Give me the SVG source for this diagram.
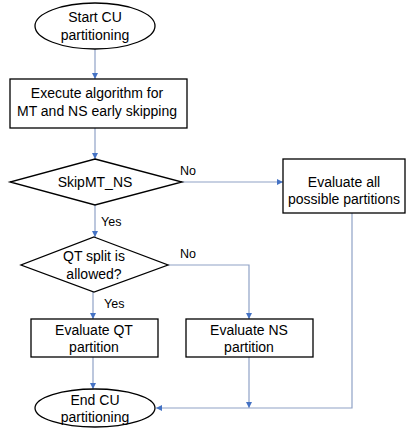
<svg xmlns="http://www.w3.org/2000/svg" width="407" height="428" viewBox="0 0 407 428">
<defs>
<marker id="ah" viewBox="0 0 6 6" refX="6" refY="3" markerWidth="6" markerHeight="6" markerUnits="userSpaceOnUse" orient="auto">
<path d="M0,0 L6,3 L0,6 Z" fill="#4472C4"/>
</marker>
<style>
.shape{fill:#fff;stroke:#000;stroke-width:1.3}
.t{font-family:"Liberation Sans",Arial,sans-serif;font-size:14px;fill:#000;text-anchor:middle}
.l{font-family:"Liberation Sans",Arial,sans-serif;font-size:12.5px;fill:#000}
.c{fill:none;stroke:#8FA2C6;stroke-width:1.2}
</style>
</defs>
<g id="connectors">
<path class="c" d="M95,49 V79" marker-end="url(#ah)"/>
<path class="c" d="M95,128 V159" marker-end="url(#ah)"/>
<path class="c" d="M182,182 H283" marker-end="url(#ah)"/>
<path class="c" d="M95,205 V237" marker-end="url(#ah)"/>
<path class="c" d="M168,265 H249 V319" marker-end="url(#ah)"/>
<path class="c" d="M93,292 V319" marker-end="url(#ah)"/>
<path class="c" d="M93,357 V389" marker-end="url(#ah)"/>
<path class="c" d="M249,357 V408" marker-end="url(#ah)"/>
<path class="c" d="M352,213 V408 H156" marker-end="url(#ah)"/>
<text class="l" x="180" y="175">No</text>
<text class="l" x="101" y="226">Yes</text>
<text class="l" x="180" y="258">No</text>
<text class="l" x="104" y="308">Yes</text>
</g>
<g id="start">
<ellipse class="shape" cx="95" cy="26" rx="60" ry="23"/>
<text class="t" x="95" y="22">Start CU</text>
<text class="t" x="95" y="40">partitioning</text>
</g>
<g id="execute">
<rect class="shape" x="10" y="79" width="177" height="49"/>
<text class="t" x="97" y="98">Execute algorithm for</text>
<text class="t" x="97" y="116">MT and NS early skipping</text>
</g>
<g id="skip">
<polygon class="shape" points="95,159 182,182 95,205 10,182"/>
<text class="t" x="95" y="187">SkipMT_NS</text>
</g>
<g id="evalall">
<rect class="shape" x="283" y="159" width="122" height="54"/>
<text class="t" x="344" y="187">Evaluate all</text>
<text class="t" x="344" y="204">possible partitions</text>
</g>
<g id="qtsplit">
<polygon class="shape" points="94,237 168,265 94,292 21,265"/>
<text class="t" x="94" y="261">QT split is</text>
<text class="t" x="94" y="279">allowed?</text>
</g>
<g id="evalqt">
<rect class="shape" x="31" y="319" width="127" height="38"/>
<text class="t" x="94" y="335">Evaluate QT</text>
<text class="t" x="94" y="352">partition</text>
</g>
<g id="evalns">
<rect class="shape" x="186" y="319" width="127" height="38"/>
<text class="t" x="249" y="335">Evaluate NS</text>
<text class="t" x="249" y="352">partition</text>
</g>
<g id="end">
<ellipse class="shape" cx="95" cy="408" rx="60" ry="19"/>
<text class="t" x="95" y="405">End CU</text>
<text class="t" x="95" y="422">partitioning</text>
</g>
</svg>
